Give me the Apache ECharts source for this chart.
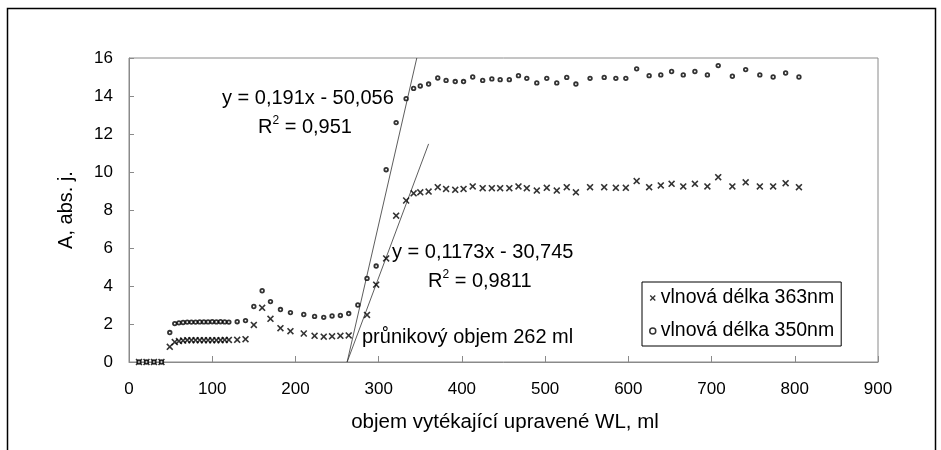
<!DOCTYPE html>
<html>
<head>
<meta charset="utf-8">
<script src="https://cdn.jsdelivr.net/npm/echarts@6/dist/echarts.min.js"></script>
<style>
html,body{margin:0;padding:0;background:#fff;}
#chart{width:941px;height:450px;}
</style>
</head>
<body>
<div id="chart"></div>
<script>
// objem (ml) - shared by both series
let volume = [12, 21, 30, 39, 49, 55, 60, 65, 70, 75, 80, 85, 90, 95, 100, 105, 110, 115, 120, 130, 140,
  150, 160, 170, 182, 194, 210, 223, 234, 244, 254, 264, 275, 286, 297, 309, 321, 333, 342, 350, 360,
  371, 381, 392, 402, 413, 425, 436, 446, 457, 468, 478, 490, 502, 514, 526, 537, 554, 571, 585, 597,
  610, 625, 639, 652, 666, 680, 695, 708, 725, 741, 758, 774, 789, 805];

// vlnova delka 350nm (kolecka)
let abs350 = [0, 0, 0, 0, 1.55, 2.02, 2.06, 2.08, 2.1, 2.1, 2.1, 2.11, 2.11, 2.11, 2.12, 2.11, 2.12, 2.11, 2.1, 2.12, 2.18,
  2.92, 3.75, 3.18, 2.76, 2.6, 2.5, 2.4, 2.35, 2.42, 2.45, 2.55, 3.0, 4.4, 5.05, 10.12, 12.6, 13.86, 14.4, 14.53, 14.63,
  14.95, 14.82, 14.76, 14.76, 15.0, 14.82, 14.9, 14.86, 14.86, 15.07, 14.93, 14.69, 14.93, 14.69, 14.98, 14.63, 14.93, 14.98, 14.93, 14.93,
  15.43, 15.07, 15.11, 15.29, 15.11, 15.29, 15.11, 15.6, 15.04, 15.39, 15.11, 15.0, 15.21, 15.0];

// vlnova delka 363nm (krizky)
let abs363 = [0, 0, 0, 0, 0.8, 1.05, 1.1, 1.13, 1.15, 1.15, 1.15, 1.15, 1.15, 1.15, 1.15, 1.15, 1.15, 1.16, 1.16, 1.17, 1.2,
  1.95, 2.85, 2.27, 1.78, 1.62, 1.5, 1.38, 1.33, 1.35, 1.38, 1.4, null, 2.48, 4.07, 5.45, 7.7, 8.5, 8.88, 8.93, 8.97,
  9.2, 9.11, 9.06, 9.11, 9.24, 9.15, 9.15, 9.15, 9.15, 9.24, 9.15, 9.02, 9.17, 9.02, 9.2, 8.93, 9.2, 9.2, 9.17, 9.17,
  9.52, 9.2, 9.29, 9.38, 9.24, 9.38, 9.24, 9.73, 9.24, 9.46, 9.24, 9.24, 9.41, 9.2];

// trend line end points
let trend350 = [[262.1, 0], [345.8, 16]];
let trend363 = [[262.1, 0], [360, 11.48]];

let xTicks = [0, 900, 100];
let yTicks = [0, 16, 2];

let name350 = 'vlnová délka 350nm';
let name363 = 'vlnová délka 363nm';

let font = 'Liberation Sans, Arial, sans-serif';
let crossPath = 'path://M0,1.6L1.6,0L5,3.4L8.4,0L10,1.6L6.6,5L10,8.4L8.4,10L5,6.6L1.6,10L0,8.4L3.4,5Z';

function toPairs(xs, ys){
  let out = [];
  for (let i = 0; i < xs.length; i++){
    if (ys[i] !== null) out.push([xs[i], ys[i]]);
  }
  return out;
}

let chart = echarts.init(document.getElementById('chart'));

let richR2 = {
  a: {fontSize: 20, fontFamily: font, lineHeight: 22, verticalAlign: 'bottom'},
  s: {fontSize: 12, fontFamily: font, lineHeight: 22, verticalAlign: 'top'}
};

let option = {
  animation: false,
  backgroundColor: '#fff',
  textStyle: {fontFamily: font},
  grid: {left: 129, top: 58, right: 63, bottom: 88, show: true, borderColor: '#8a8a8a', borderWidth: 1},
  xAxis: {
    type: 'value', min: xTicks[0], max: xTicks[1], interval: xTicks[2],
    axisLine: {show: true, lineStyle: {color: '#8a8a8a'}},
    axisTick: {show: true, inside: true, length: 6, lineStyle: {color: '#8a8a8a'}},
    splitLine: {show: false},
    axisLabel: {color: '#000', fontSize: 17, margin: 19, fontFamily: font}
  },
  yAxis: {
    type: 'value', min: yTicks[0], max: yTicks[1], interval: yTicks[2],
    axisLine: {show: true, lineStyle: {color: '#8a8a8a'}},
    axisTick: {show: true, inside: true, length: 5, lineStyle: {color: '#8a8a8a'}},
    splitLine: {show: false},
    axisLabel: {color: '#000', fontSize: 17, margin: 16, fontFamily: font}
  },
  legend: {
    orient: 'vertical', left: 642, top: 282,
    borderColor: '#000', borderWidth: 1, padding: [5, 7, 4, 7],
    itemWidth: 6, itemHeight: 6, itemGap: 11,
    textStyle: {color: '#000', fontSize: 19.5, fontFamily: font, lineHeight: 22},
    data: [
      {name: name363},
      {name: name350, itemStyle: {borderWidth: 1.5}}
    ]
  },
  graphic: [
    {type: 'rect', shape: {x: 7.5, y: 8.5, width: 928, height: 470}, style: {fill: 'none', stroke: '#000', lineWidth: 1.5}, silent: true},
    {type: 'text', x: 505, y: 422, style: {text: 'objem vytékající upravené WL, ml', font: '20.5px ' + font, fill: '#000', textAlign: 'center', textVerticalAlign: 'middle'}},
    {type: 'text', x: 66, y: 210, rotation: Math.PI / 2, style: {text: 'A, abs. j.', font: '20px ' + font, fill: '#000', textAlign: 'center', textVerticalAlign: 'middle'}},
    {type: 'text', x: 222, y: 98, style: {text: 'y = 0,191x - 50,056', font: '20px ' + font, fill: '#000', textVerticalAlign: 'middle'}},
    {type: 'text', x: 258, y: 126, style: {text: '{a|R}{s|2}{a| = 0,951}', rich: richR2, fill: '#000', textVerticalAlign: 'middle'}},
    {type: 'text', x: 392, y: 252, style: {text: 'y = 0,1173x - 30,745', font: '20px ' + font, fill: '#000', textVerticalAlign: 'middle'}},
    {type: 'text', x: 428, y: 280, style: {text: '{a|R}{s|2}{a| = 0,9811}', rich: richR2, fill: '#000', textVerticalAlign: 'middle'}},
    {type: 'text', x: 362, y: 337, style: {text: 'průnikový objem 262 ml', font: '20px ' + font, fill: '#000', textVerticalAlign: 'middle'}}
  ],
  series: [
    {
      name: name363, type: 'scatter', symbol: crossPath, symbolSize: 7,
      itemStyle: {color: '#000'},
      data: toPairs(volume, abs363), z: 3
    },
    {
      name: name350, type: 'scatter', symbol: 'circle', symbolSize: 3.6,
      itemStyle: {color: '#fff', borderColor: '#000', borderWidth: 1.8},
      data: toPairs(volume, abs350), z: 3
    },
    {
      type: 'line', data: trend350, symbol: 'none', silent: true,
      lineStyle: {color: '#333', width: 0.8}, z: 2
    },
    {
      type: 'line', data: trend363, symbol: 'none', silent: true,
      lineStyle: {color: '#333', width: 0.8}, z: 2
    }
  ]
};

chart.setOption(option);
</script>
</body>
</html>
